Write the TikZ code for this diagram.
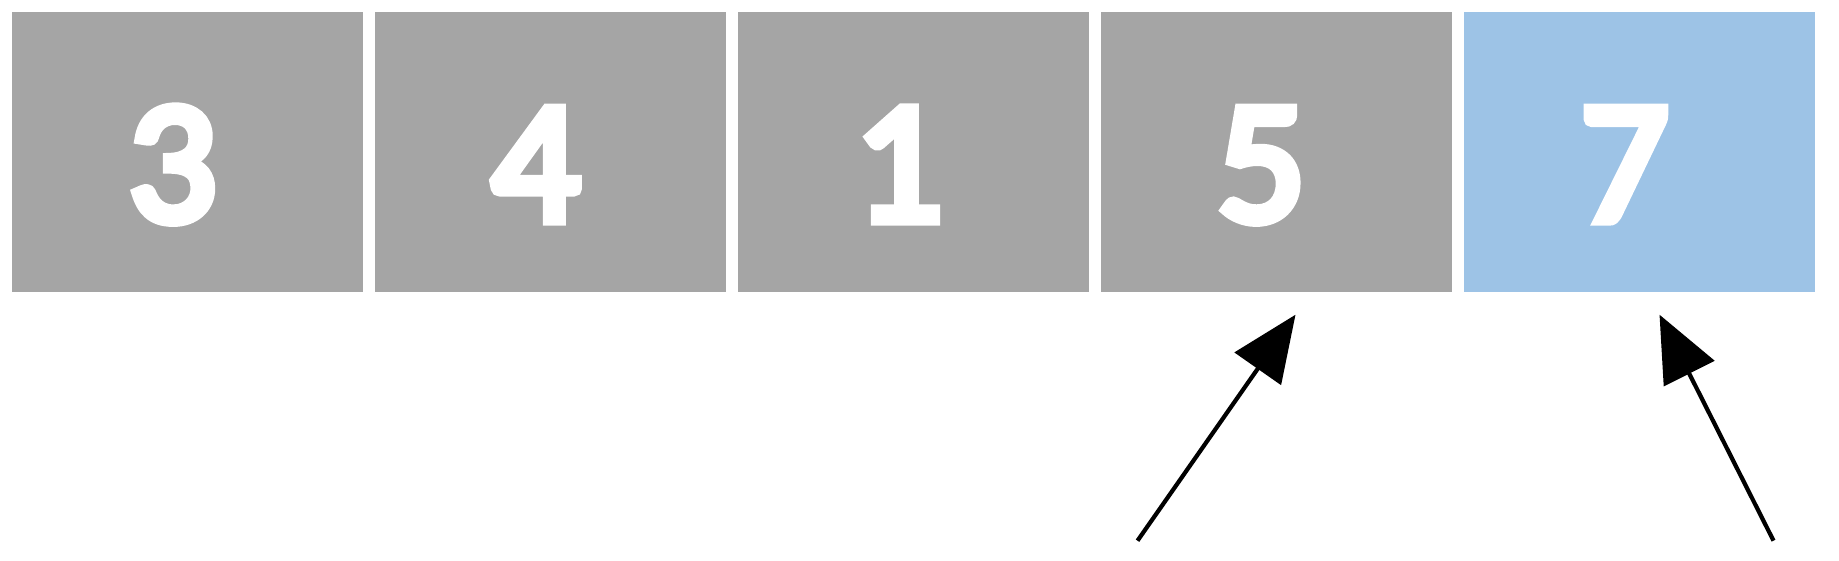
\documentclass[tikz,border=0pt]{standalone}
\usepackage{fontspec}
\setmainfont{Carlito}
\newfontfamily\cellfont{Carlito}[FakeBold=6]
\usepackage{tikz}
\usetikzlibrary{arrows.meta,calc}
\definecolor{cellgray}{HTML}{A5A5A5}
\definecolor{cellblue}{HTML}{9DC3E6}

\begin{document}
\begin{tikzpicture}
  %%Create the styles for the cells and the arrows
  \tikzset{cell/.style={fill=cellgray,minimum width=3.51cm,minimum height=2.8cm,inner sep=0pt,text=white,text height=1.37cm,text depth=0pt,font=\cellfont\fontsize{49.5}{58}\selectfont}}
  \tikzset{pointer arrow/.style={draw,-{Triangle[length=0.66cm,width=0.56cm]},line width=1.2pt,color=black}}
  \useasboundingbox (0,0) rectangle (18.39,5.6);
  %%Place the cells using the foreach construct
  \foreach \x/\i/\v/\fillcol in {1.875/1/3/cellgray,5.505/2/4/cellgray,9.135/3/1/cellgray,12.765/4/5/cellgray,16.395/5/7/cellblue}{
    \node[cell,fill=\fillcol] (n\i) at (\x,4.08) {\v\kern0.3cm};
  }
  %%Create the coordinates for the arrow ends
  \path (n4.south) ++(0.19,-0.22) coordinate (t1);
  \path (n5.south) ++(0.2,-0.22) coordinate (t2);
  \path (t1) ++(-1.58,-2.26) coordinate (s1);
  \path (t2) ++(1.14,-2.26) coordinate (s2);
  %%Drawing the arrows
  \path[pointer arrow] (s1) -- (t1);
  \path[pointer arrow] (s2) -- (t2);
\end{tikzpicture}
\end{document}
